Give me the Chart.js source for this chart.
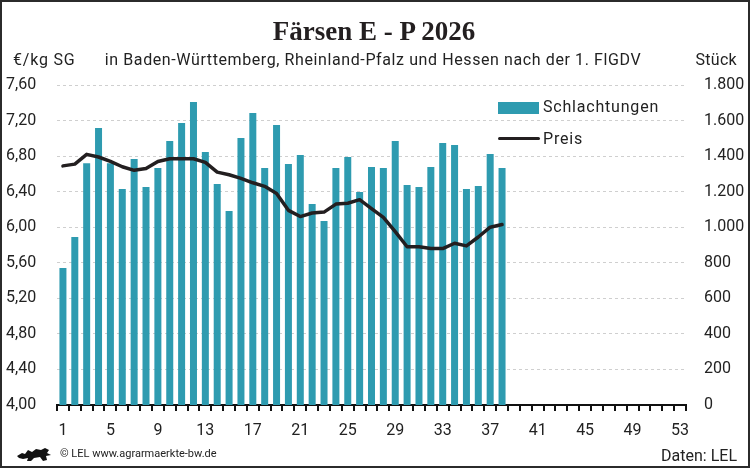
<!DOCTYPE html>
<html lang="de">
<head>
<meta charset="utf-8">
<title>Färsen E - P 2026</title>
<script src="https://cdn.jsdelivr.net/npm/chart.js@4/dist/chart.umd.min.js"></script>
<style>
  html, body { margin: 0; padding: 0; background: #fff; }
  #wrap { position: relative; width: 750px; height: 468px; overflow: hidden; font-family: Roboto, sans-serif; color: #222; }
  #chart { position: absolute; left: 0; top: 0; }
  #frame { position: absolute; left: 0; top: 0; width: 750px; height: 468px; box-sizing: border-box; border: 2px solid #2b2b2b; pointer-events: none; }
  .txt { position: absolute; white-space: nowrap; }
  #title { left: 0; width: 748px; text-align: center; top: 18px; font: bold 27px/27px "Liberation Serif", serif; color: #231f20; }
  #subtitle { left: 0; width: 746px; text-align: center; top: 52px; font-size: 16px; line-height: 16px; letter-spacing: 0.6px; }
  #unitL { left: 13px; top: 52px; font-size: 16px; line-height: 16px; letter-spacing: 0.8px; }
  #unitR { right: 13px; top: 52px; font-size: 16px; line-height: 16px; letter-spacing: 0.3px; }
  .leg { left: 543px; font-size: 16px; line-height: 16px; letter-spacing: 0.8px; }
  .key { position: absolute; left: 498px; }
  #footL { left: 60px; top: 447px; font-size: 11px; line-height: 14px; }
  #footR { right: 13px; top: 447px; font-size: 16px; line-height: 18px; }
  #logo { position: absolute; left: 16px; top: 447px; }
</style>
</head>
<body>
<div id="wrap">
  <canvas id="chart" width="750" height="468"></canvas>
  <div class="txt" id="title">Färsen E - P 2026</div>
  <div class="txt" id="subtitle">in Baden-Württemberg, Rheinland-Pfalz und Hessen nach der 1. FlGDV</div>
  <div class="txt" id="unitL">€/kg SG</div>
  <div class="txt" id="unitR">Stück</div>
  <div class="key" style="top:102px;width:41px;height:12px;background:#2e9bb0"></div>
  <div class="txt leg" style="top:99px">Schlachtungen</div>
  <div class="key" style="top:137px;width:42px;height:3px;background:#231f20;border-radius:2px"></div>
  <div class="txt leg" style="top:131px">Preis</div>
  <svg id="logo" width="36" height="15" viewBox="0 0 36 15">
    <path d="M1 9 L6 6 L9 7 L12 3 L16 5 L20 2 L25 3 L29 1 L33 3 L31 6 L35 8 L30 9 L31 13 L27 14 L24 10 L18 11 L15 14 L11 14 L12 11 L7 12 L3 11 Z" fill="#111"/>
  </svg>
  <div class="txt" id="footL">© LEL www.agrarmaerkte-bw.de</div>
  <div class="txt" id="footR">Daten: LEL</div>
  <div id="frame"></div>
</div>
<script>
// Kalenderwochen 1..53
const weeks = Array.from({ length: 53 }, (_, i) => String(i + 1));

// Schlachtungen (Stück) je KW
const schlachtungen = [
  770, 945, 1360, 1558, 1360, 1215, 1384, 1226, 1333, 1485,
  1586, 1704, 1423, 1243, 1091, 1502, 1643, 1333, 1575, 1356,
  1406, 1131, 1035, 1333, 1395, 1198, 1339, 1333, 1485, 1238,
  1226, 1339, 1474, 1463, 1215, 1232, 1412, 1333,
];

// Preis (€/kg SG) je KW
const preis = [
  6.69, 6.71, 6.82, 6.79, 6.74, 6.68, 6.64, 6.66, 6.74, 6.77,
  6.77, 6.77, 6.73, 6.62, 6.59, 6.55, 6.50, 6.46, 6.38, 6.19,
  6.12, 6.16, 6.17, 6.26, 6.27, 6.31, 6.21, 6.11, 5.95, 5.78,
  5.78, 5.76, 5.76, 5.82, 5.79, 5.89, 6.00, 6.03,
];

const BAR   = '#2e9bb0';
const LINE  = '#231f20';
const TEXT  = '#222';
const FONT  = { family: 'Roboto, sans-serif', size: 16 };

new Chart(document.getElementById('chart'), {
  type: 'bar',
  data: {
    labels: weeks,
    datasets: [
      {
        type: 'line',
        label: 'Preis',
        data: preis,
        yAxisID: 'y',
        borderColor: LINE,
        borderWidth: 3.5,
        borderCapStyle: 'round',
        borderJoinStyle: 'round',
        pointRadius: 0,
        tension: 0,
        order: 0,
      },
      {
        label: 'Schlachtungen',
        data: schlachtungen,
        yAxisID: 'y1',
        backgroundColor: BAR,
        categoryPercentage: 1,
        barPercentage: 0.59,
        order: 1,
      },
    ],
  },
  options: {
    responsive: false,
    animation: false,
    devicePixelRatio: 1,
    layout: { padding: { left: 6, right: 0, top: 85, bottom: 0 } },
    plugins: { legend: { display: false }, tooltip: { enabled: false } },
    scales: {
      x: {
        grid: { display: true, drawOnChartArea: false, drawTicks: true, tickLength: 6, color: '#111', lineWidth: 2 },
        border: { display: true, color: '#111', width: 2 },
        ticks: {
          autoSkip: false, maxRotation: 0, padding: 10, color: TEXT, font: FONT,
          callback: (v, i) => (i % 4 === 0 ? weeks[i] : ''),
        },
        afterFit: s => { s.height = 63; },
      },
      y: {
        position: 'left',
        min: 4, max: 7.6,
        grid: { color: '#cfcfcf', lineWidth: 1, drawTicks: false },
        border: { display: false, dash: [3, 3] },
        ticks: {
          stepSize: 0.4, crossAlign: 'far', color: TEXT, font: FONT,
          callback: v => v.toFixed(2).replace('.', ','),
        },
        afterFit: s => { s.width = 51; },
      },
      y1: {
        position: 'right',
        min: 0, max: 1800,
        grid: { display: false, drawTicks: false },
        border: { display: false },
        ticks: {
          stepSize: 200, padding: 18, color: TEXT, font: FONT,
          callback: v => v.toLocaleString('de-DE'),
        },
        afterFit: s => { s.width = 64; },
      },
    },
  },
});
</script>
</body>
</html>
